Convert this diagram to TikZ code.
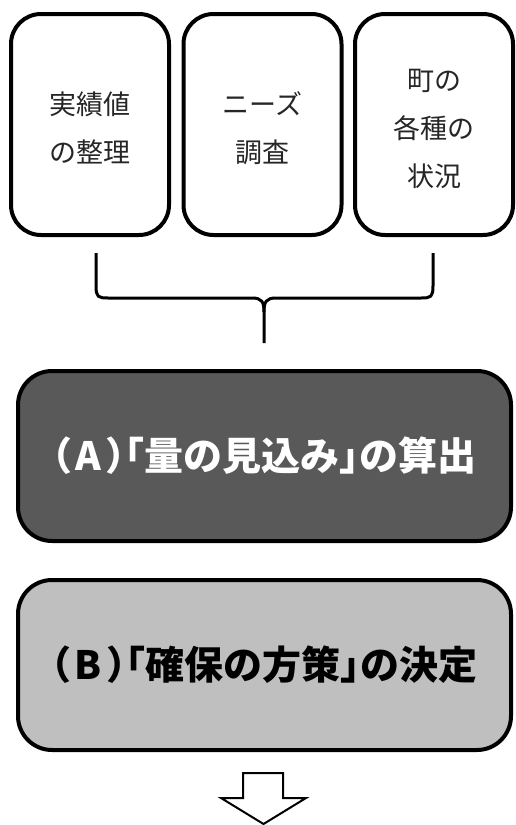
\documentclass[tikz,border=0pt]{standalone}
\usepackage{fontspec}
\newfontfamily\cjk{Noto Sans CJK JP}
\newfontfamily\cjkhalt[RawFeature=+halt]{Noto Sans CJK JP}
\newcommand{\hpunct}[1]{{\cjkhalt\bfseries #1}}
\newcommand{\toplines}[1]{\raisebox{-4pt}[\height][\depth]{\begin{tabular}{@{}c@{}}#1\end{tabular}}}
\definecolor{darkbox}{HTML}{595959}
\definecolor{lightbox}{HTML}{BFBFBF}
\begin{document}
\begin{tikzpicture}[x=1pt,y=-1pt,
  topbox/.style={draw=black,line width=4pt,rounded corners=30pt,fill=white,
    minimum width=158pt,minimum height=221pt,inner sep=0pt,
    font=\cjk\fontsize{27}{48}\selectfont,text=black!85},
  bigbox/.style={draw=black,line width=4pt,rounded corners=34pt,
    minimum width=493pt,minimum height=170pt,inner sep=0pt,
    font=\cjk\bfseries\fontsize{39}{44}\selectfont},
  bracestyle/.style={line width=3pt,line join=round},
  arrowstyle/.style={draw=black,line width=2pt,fill=white,line join=miter}]
\useasboundingbox (0,0) rectangle (515,825);
\node[topbox] (b1) at (90,124.5) {\toplines{実績値\\の整理}};
\node[topbox] (b2) at (262.5,124.5) {\toplines{ニーズ\\調査}};
\node[topbox] (b3) at (434,124.5) {\toplines{町の\\各種の\\状況}};
\coordinate (bl) at (96,253);
\coordinate (br) at (433,253);
\coordinate (bt) at (264,343);
\draw[bracestyle] (bl) -- (96,286) .. controls (96,297) and (98,298) .. (108,298)
  -- (252,298) .. controls (262,298) and (264,302) .. (264,312) -- (bt);
\draw[bracestyle] (br) -- (433,286) .. controls (433,297) and (431,298) .. (421,298)
  -- (276,298) .. controls (266,298) and (264,302) .. (264,312);
\node[bigbox,fill=darkbox,text=white] (A) at (264.5,456)
  {\hpunct{（}\hspace{3pt}A\hspace{5pt}\hpunct{）}\hpunct{「}量の見込み\hpunct{」}の算出\hspace{4pt}};
\node[bigbox,fill=lightbox,text=black] (B) at (264.5,665)
  {\hpunct{（}\hspace{3pt}B\hspace{5pt}\hpunct{）}\hpunct{「}確保の方策\hpunct{」}の決定\hspace{4pt}};
\draw[arrowstyle] (243,773) -- (283,773) -- (283,798) -- (306,798) -- (263.5,824)
  -- (221,798) -- (243,798) -- cycle;
\end{tikzpicture}
\end{document}
